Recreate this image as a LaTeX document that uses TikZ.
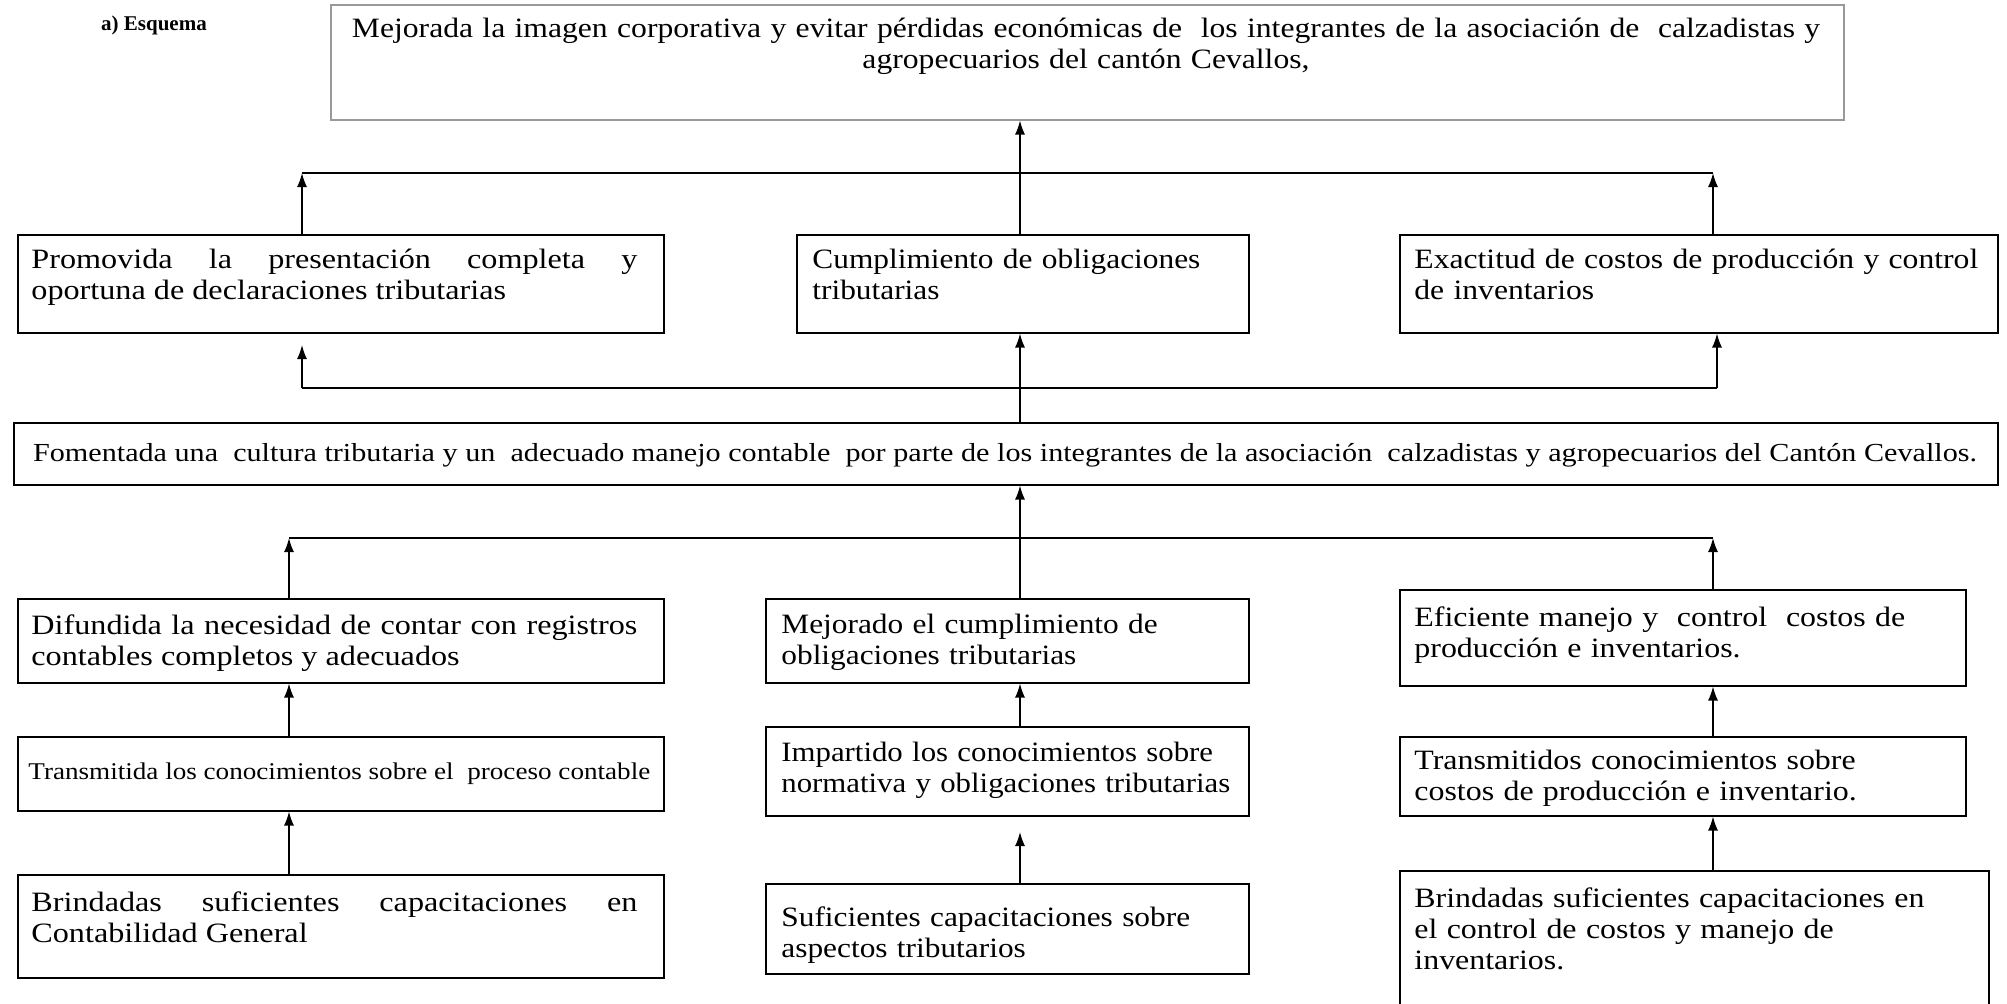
\documentclass[tikz,border=0pt]{standalone}
\usepackage{fontspec}
\setmainfont{Liberation Serif}
\usetikzlibrary{arrows.meta}
\newcommand{\stretchfont}[2]{\fontsize{#1}{15.5}\selectfont\addfontfeature{FakeStretch=#2}}
\begin{document}
\begin{tikzpicture}[x=0.5pt,y=-0.5pt,
  frame/.style={draw, line width=0.75pt, anchor=north west, inner sep=0pt},
  txt/.style={anchor=north west, inner sep=0pt, align=left, font=\stretchfont{14}{1.12}},
  rtxt/.style={anchor=north west, inner sep=0pt, align=left, font=\stretchfont{14}{1.14}},
  jtxt/.style={anchor=north west, inner sep=0pt, align=justify, font=\stretchfont{14}{1.15}},
  conn/.style={line width=0.75pt},
  arr/.style={conn, -{Latex[length=7pt,width=5pt]}}]
\useasboundingbox[fill=white] (0,0) rectangle (2007,1003);

\node[font=\bfseries\fontsize{10.5}{12}\selectfont, inner sep=0pt] (lab) at (154,25) {a) Esquema};

% boxes
\node[frame, draw=black!40, minimum width=756.5pt, minimum height=57.5pt] (top) at (330,4) {};
\node[anchor=north, inner sep=0pt, align=center, text width=750pt, font=\stretchfont{14}{1.13}] (topt) at (1086,18) {Mejorada la imagen corporativa y evitar pérdidas económicas de\ \ los integrantes de la asociación de\ \ calzadistas y\\ agropecuarios del cantón Cevallos,};

\node[frame, minimum width=323pt, minimum height=49pt] (prom) at (17,234) {};
\node[jtxt, text width=303pt] (promt) at (31,249) {Promovida la presentación completa y\linebreak oportuna de declaraciones tributarias};

\node[frame, minimum width=226pt, minimum height=49pt] (cump) at (796,234) {};
\node[txt, text width=215pt] (cumpt) at (812,249) {Cumplimiento de obligaciones\\ tributarias};

\node[frame, minimum width=299pt, minimum height=49pt] (exac) at (1399,234) {};
\node[txt, text width=295pt, font=\stretchfont{14}{1.13}] (exact) at (1414,249) {Exactitud de costos de producción y control\\ de inventarios};

\node[frame, minimum width=992pt, minimum height=31pt] (fome) at (13,422) {};
\node[inner sep=0pt, font=\stretchfont{13}{1.16}] (fomet) at (1005,455) {Fomentada una\ \ cultura tributaria y un\ \ adecuado manejo contable\ \ por parte de los integrantes de la asociación\ \ calzadistas y agropecuarios del Cantón Cevallos.};

\node[frame, minimum width=323pt, minimum height=42pt] (difu) at (17,598) {};
\node[jtxt, text width=303pt] (difut) at (31,614) {Difundida la necesidad de contar con registros\linebreak contables completos y adecuados};

\node[frame, minimum width=241.5pt, minimum height=42pt] (mejo) at (765,598) {};
\node[txt, text width=238pt] (mejot) at (781,614) {Mejorado el cumplimiento de\\ obligaciones tributarias};

\node[frame, minimum width=283pt, minimum height=48pt] (efic) at (1399,589) {};
\node[rtxt, text width=280pt] (efict) at (1414,606) {Eficiente manejo y\ \ control\ \ costos de\\ producción e inventarios.};

\node[frame, minimum width=323pt, minimum height=37pt] (tran) at (17,736) {};
\node[anchor=west, inner sep=0pt, font=\stretchfont{12}{1.13}] (trant) at (28,774) {Transmitida los conocimientos sobre el\ \ proceso contable};

\node[frame, minimum width=241.5pt, minimum height=44.5pt] (impa) at (765,726) {};
\node[txt, text width=238pt, font=\stretchfont{14}{1.1}] (impat) at (781,742) {Impartido los conocimientos sobre\\ normativa y obligaciones tributarias};

\node[frame, minimum width=283pt, minimum height=39.5pt] (trns) at (1399,736) {};
\node[rtxt, text width=280pt] (trnst) at (1414,750) {Transmitidos conocimientos sobre\\ costos de producción e inventario.};

\node[frame, minimum width=323pt, minimum height=51.5pt] (brin) at (17,874) {};
\node[jtxt, text width=303pt] (brint) at (31,891) {Brindadas suficientes capacitaciones en\linebreak Contabilidad General};

\node[frame, minimum width=241.5pt, minimum height=45pt] (sufi) at (765,883) {};
\node[txt, text width=238pt] (sufit) at (781,906) {Suficientes capacitaciones sobre\\ aspectos tributarios};

\node[frame, minimum width=294.5pt, minimum height=70pt] (bri2) at (1399,870) {};
\node[rtxt, text width=290pt] (bri2t) at (1414,887) {Brindadas suficientes capacitaciones en\\ el control de costos y manejo de\\ inventarios.};

% connector coordinates
\coordinate (mid) at (1020,0);
\coordinate (b1a) at (302,173);
\coordinate (b1b) at (1713,173);
\coordinate (b2a) at (302,388);
\coordinate (b2b) at (1717,388);
\coordinate (b2t) at (302,345);
\coordinate (b3a) at (289,538);
\coordinate (b3b) at (1713,538);

% level 1
\draw[conn] (b1a) -- (b1b);
\draw[arr] (prom.north -| b1a) -- (b1a);
\draw[arr] (exac.north -| b1b) -- (b1b);
\draw[arr] (cump.north -| mid) -- (top.south -| mid);

% level 2
\draw[conn] (b2a) -- (b2b);
\draw[arr] (b2a) -- (b2t);
\draw[arr] (b2b) -- (exac.south -| b2b);
\draw[arr] (fome.north -| mid) -- (cump.south -| mid);

% level 3
\draw[conn] (b3a) -- (b3b);
\draw[arr] (difu.north -| b3a) -- (b3a);
\draw[arr] (efic.north -| b3b) -- (b3b);
\draw[arr] (mejo.north -| mid) -- (fome.south -| mid);

% level 4
\draw[arr] (tran.north -| b3a) -- (difu.south -| b3a);
\draw[arr] (impa.north -| mid) -- (mejo.south -| mid);
\draw[arr] (trns.north -| b3b) -- (efic.south -| b3b);

% level 5
\draw[arr] (brin.north -| b3a) -- (tran.south -| b3a);
\draw[arr] (sufi.north -| mid) -- ++(0,-51);
\draw[arr] (bri2.north -| b3b) -- (trns.south -| b3b);
\end{tikzpicture}
\end{document}
